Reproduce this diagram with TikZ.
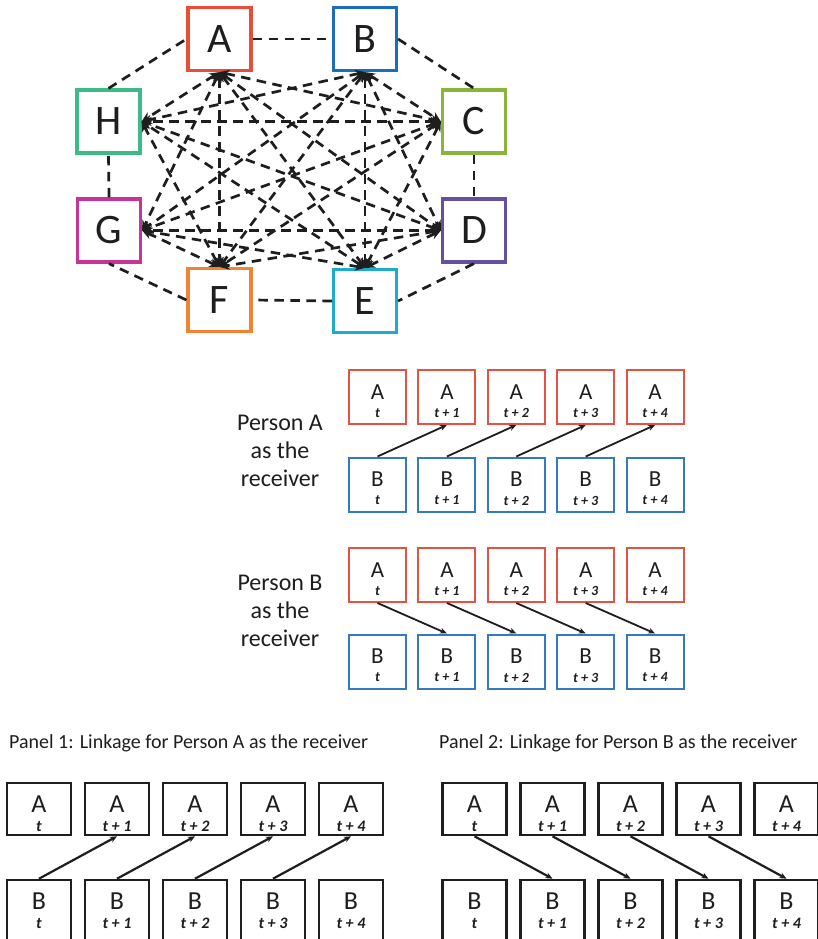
\documentclass[tikz,border=0pt]{standalone}
\usepackage{fontspec}
\setmainfont{Carlito}
\usetikzlibrary{arrows.meta}
\definecolor{cA}{RGB}{232,76,58}
\definecolor{cB}{RGB}{28,110,185}
\definecolor{cC}{RGB}{138,180,58}
\definecolor{cD}{RGB}{102,78,160}
\definecolor{cE}{RGB}{30,172,205}
\definecolor{cF}{RGB}{240,132,50}
\definecolor{cG}{RGB}{200,52,150}
\definecolor{cH}{RGB}{62,186,136}
\definecolor{mred}{RGB}{228,82,70}
\definecolor{mblue}{RGB}{52,122,192}
\definecolor{ink}{RGB}{30,30,30}
\tikzset{
  gbox/.style={draw=#1, line width=3.2pt, minimum width=63pt, minimum height=63pt,
    inner sep=0pt, fill=white, text=ink, font=\fontsize{42}{42}\selectfont},
  ring/.style={draw=ink, line width=2.7pt, dash pattern=on 9.5pt off 6.5pt},
  link/.style={ring, {Stealth[length=10pt,width=9pt]}-{Stealth[length=10pt,width=9pt]}},
  mbox/.style={draw=#1, line width=2pt, minimum width=57pt, minimum height=54pt, inner sep=0pt},
  mletter/.style={text=ink, font=\fontsize{23}{23}\selectfont, inner sep=0pt},
  msub/.style={text=ink, font=\fontsize{14}{14}\selectfont\bfseries\itshape, inner sep=0pt},
  marrow/.style={draw=ink, line width=1.8pt, -{Stealth[length=7pt,width=6pt]}},
  ptext/.style={text=ink, align=center, font=\fontsize{24}{28}\selectfont, inner sep=0pt},
  bboxA/.style={draw=ink, line width=2.6pt, minimum width=64pt, minimum height=52pt, inner sep=0pt},
  bboxB/.style={draw=ink, line width=2.6pt, minimum width=64pt, minimum height=80pt, inner sep=0pt},
  bletter/.style={text=ink, font=\fontsize{26}{26}\selectfont, inner sep=0pt},
  bsub/.style={text=ink, font=\fontsize{16}{16}\selectfont\bfseries\itshape, inner sep=0pt},
  barrow/.style={draw=ink, line width=2.2pt, -{Stealth[length=7pt,width=6pt]}},
  ttext/.style={text=ink, font=\fontsize{20}{20}\selectfont, inner sep=0pt, anchor=west},
}
\begin{document}
\begin{tikzpicture}[x=1pt,y=-1pt]
\useasboundingbox[fill=white] (0,0) rectangle (817,939);

% ---------------- top network ----------------
\node[gbox=cA] (A) at (219.5,39) {A};
\node[gbox=cB] (B) at (365,39) {B};
\node[gbox=cC] (C) at (474,121.5) {C};
\node[gbox=cD] (D) at (474,230.5) {D};
\node[gbox=cE] (E) at (365,301) {E};
\node[gbox=cF] (F) at (219.5,300) {F};
\node[gbox=cG] (G) at (109,230.5) {G};
\node[gbox=cH] (H) at (108.5,121.5) {H};

\draw[ring] (A.east) -- (B.west);
\draw[ring] (B.east) -- (C.north);
\draw[ring] (C.south) -- (D.north);
\draw[ring] (D.south) -- (E.east);
\draw[ring] (E.west) -- (F.east);
\draw[ring] (F.west) -- (G.south);
\draw[ring] (G.north) -- (H.south);
\draw[ring] (H.north) -- (A.west);

\foreach \p/\q in {A.south/C.west, A.south/D.west, A.south/E.north, A.south/F.north,
                   A.south/G.east, A.south/H.east,
                   B.south/C.west, B.south/D.west, B.south/E.north, B.south/F.north,
                   B.south/G.east, B.south/H.east,
                   C.west/E.north, C.west/F.north, C.west/G.east, C.west/H.east,
                   D.west/E.north, D.west/F.north, D.west/G.east, D.west/H.east,
                   E.north/G.east, E.north/H.east,
                   F.north/G.east, F.north/H.east}
  \draw[link] (\p) -- (\q);

% ---------------- middle panels ----------------
\node[ptext] (pA) at (280,451) {Person A\\as the\\receiver};
\node[ptext] (pB) at (280,611) {Person B\\as the\\receiver};

\foreach \i/\lab in {0/t, 1/t + 1, 2/t + 2, 3/t + 3, 4/t + 4} {
  % Person A as receiver
  \node[mbox=mred]  (ra\i) at (377.5+69.4*\i,397) {};
  \node[mletter] (raL\i) at ([yshift=5pt]ra\i.center) {A};
  \node[msub] (raS\i) at ([yshift=-16pt]ra\i.center) {\lab};
  \node[mbox=mblue] (rb\i) at (377.5+69.4*\i,484.5) {};
  \node[mletter] (rbL\i) at ([yshift=5pt]rb\i.center) {B};
  \node[msub] (rbS\i) at ([yshift=-16pt]rb\i.center) {\lab};
  % Person B as receiver
  \node[mbox=mred]  (sa\i) at (377.5+69.4*\i,575) {};
  \node[mletter] (saL\i) at ([yshift=5pt]sa\i.center) {A};
  \node[msub] (saS\i) at ([yshift=-16pt]sa\i.center) {\lab};
  \node[mbox=mblue] (sb\i) at (377.5+69.4*\i,661.5) {};
  \node[mletter] (sbL\i) at ([yshift=5pt]sb\i.center) {B};
  \node[msub] (sbS\i) at ([yshift=-16pt]sb\i.center) {\lab};
}
\foreach \i in {0,...,3} {
  \pgfmathtruncatemacro\j{\i+1}
  \draw[marrow] (rb\i.north) -- (ra\j.south);
  \draw[marrow] (sa\i.south) -- (sb\j.north);
}

% ---------------- bottom panels ----------------
\node[ttext] (t1) at (9,743) {Panel 1: Linkage for Person A as the receiver};
\node[ttext] (t2) at (439,743) {Panel 2: Linkage for Person B as the receiver};

\foreach \i/\lab in {0/t, 1/t + 1, 2/t + 2, 3/t + 3, 4/t + 4} {
  \node[bboxA] (pa\i) at (39+78*\i,809) {};
  \node[bletter] (paL\i) at ([yshift=-22pt]pa\i.north) {A};
  \node[bsub] (paS\i) at ([yshift=-45pt]pa\i.north) {\lab};
  \node[bboxB] (pb\i) at (39+78*\i,920) {};
  \node[bletter] (pbL\i) at ([yshift=-22pt]pb\i.north) {B};
  \node[bsub] (pbS\i) at ([yshift=-45pt]pb\i.north) {\lab};
  \node[bboxA] (qa\i) at (474.5+78*\i,809) {};
  \node[bletter] (qaL\i) at ([yshift=-22pt]qa\i.north) {A};
  \node[bsub] (qaS\i) at ([yshift=-45pt]qa\i.north) {\lab};
  \node[bboxB] (qb\i) at (474.5+78*\i,920) {};
  \node[bletter] (qbL\i) at ([yshift=-22pt]qb\i.north) {B};
  \node[bsub] (qbS\i) at ([yshift=-45pt]qb\i.north) {\lab};
}
\foreach \i in {0,...,3} {
  \pgfmathtruncatemacro\j{\i+1}
  \draw[barrow] (pb\i.north) -- (pa\j.south);
  \draw[barrow] (qa\i.south) -- (qb\j.north);
}
\end{tikzpicture}
\end{document}
